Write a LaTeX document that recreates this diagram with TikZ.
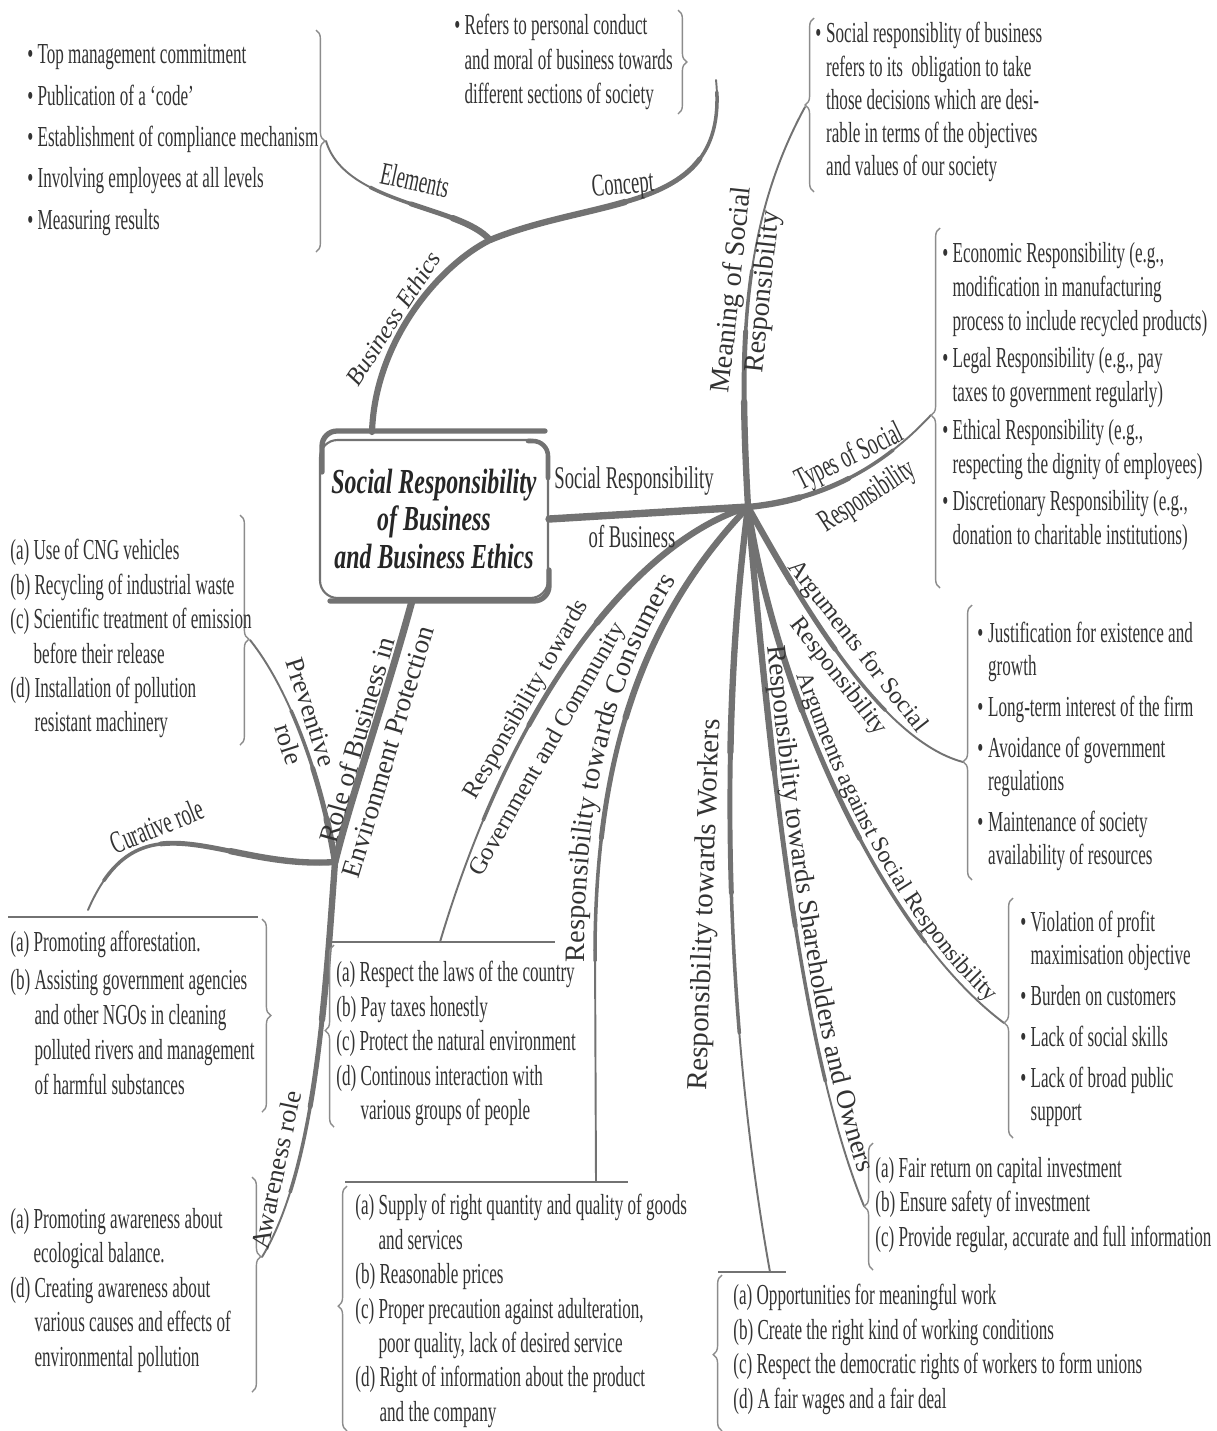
\documentclass[tikz,border=0pt]{standalone}
\usepackage{fontspec}
\setmainfont{Liberation Serif}
\newfontfamily\bodyf[FakeStretch=0.59]{Liberation Serif}
\newfontfamily\titlef[FakeStretch=0.68]{Liberation Serif}
\usetikzlibrary{decorations.pathreplacing,decorations.text}
\definecolor{ln}{HTML}{727272}
\definecolor{tx}{HTML}{333333}
\definecolor{br}{HTML}{8C8C8C}
\tikzset{
  lst/.style={anchor=north west, inner sep=0pt, align=left, text=tx, font=\bodyf\fontsize{16.5}{19.6}\selectfont},
  lbl/.style={inner sep=0pt, text=tx, font=\fontsize{#1}{#1}\selectfont},
  lbl/.default=16,
  clbl/.style={inner sep=0pt, text=tx, font=\bodyf\fontsize{18}{20}\selectfont},
  brc/.style={draw=br, line width=0.8pt, decorate, decoration={brace, amplitude=5pt, aspect=#1}},
  brc/.default=0.5,
  tp/.style n args={3}{draw=ln, line cap=round, line width=1.1pt,
     postaction={draw=ln, line cap=round, line width=2pt, dash pattern=on #1pt off 3000pt},
     postaction={draw=ln, line cap=round, line width=2.8pt, dash pattern=on #2pt off 3000pt},
     postaction={draw=ln, line cap=round, line width=3.6pt, dash pattern=on #3pt off 3000pt}},
  topline/.style={draw=ln, line width=1.5pt},
  ctrbox/.style={draw=ln, line width=1.2pt, rounded corners=0.35cm, minimum width=4.56cm, minimum height=3.16cm, align=center, inner sep=0pt, text=black!85, font=\titlef\bfseries\itshape\fontsize{20}{21.5}\selectfont},
}
\begin{document}
\begin{tikzpicture}[x=0.02cm,y=-0.02cm]
\fill[white] (0,0) rectangle (1217,1431);
\path[use as bounding box] (0,0) rectangle (1217,1431);

% ---------- central box ----------
\node[ctrbox] (ctr) at (434,519) {Social Responsibility\\of Business\\and Business Ethics};
\draw[draw=ln, line width=3pt, line cap=round, rounded corners=0.3cm] (322,472) -- (322,431) -- (545,431);
\draw[draw=ln, line width=2.6pt, line cap=round, rounded corners=0.3cm] (528,441) -- (548,441) -- (548,478);
\draw[draw=ln, line width=3pt, line cap=round, rounded corners=0.3cm] (330,601) -- (549,601) -- (549,570);

% ---------- coordinates ----------
\coordinate (hub) at (748,507);
\coordinate (bE) at (372,432);
\coordinate (jB) at (490,240);
\coordinate (eL) at (326,141);
\coordinate (cP) at (716,80);
\coordinate (rB) at (412,601);
\coordinate (jR) at (335,862);
\coordinate (pV) at (250,640);
\coordinate (cU) at (88,910);
\coordinate (aW) at (262,1257);
\coordinate (mS) at (805,107);
\coordinate (tT) at (931,415);
\coordinate (aF) at (963,762);
\coordinate (aA) at (1004,1023);
\coordinate (sH) at (864,1206);
\coordinate (wK) at (770,1272);
\coordinate (cN) at (596,1182);
\coordinate (gV) at (440,942);
\coordinate (lc0) at (595,962);

% ---------- branches ----------
\draw[draw=ln, line width=4.2pt, line cap=round] (ctr.east) -- (hub);
\draw[tp={135}{100}{60}] (hub) .. controls (740,360) and (738,230) .. (mS);
\draw[tp={90}{60}{30}] (hub) .. controls (820,500) and (880,470) .. (tT);
\draw[tp={140}{95}{50}] (hub) .. controls (800,600) and (880,740) .. (aF);
\draw[tp={270}{200}{120}] (hub) .. controls (775,690) and (880,930) .. (aA);
\draw[tp={330}{240}{150}] (hub) .. controls (770,760) and (800,1050) .. (sH);
\draw[tp={300}{220}{140}] (hub) .. controls (715,760) and (730,1050) .. (wK);
\draw[tp={280}{210}{140}] (hub) .. controls (640,620) and (596,760) .. (595,950) -- (cN);
\draw[tp={240}{180}{110}] (hub) .. controls (640,540) and (515,690) .. (gV);

\draw[draw=ln, line width=3.5pt, line cap=round] (bE) .. controls (375,340) and (440,265) .. (jB);
\draw[tp={75}{50}{25}] (jB) .. controls (460,205) and (345,205) .. (eL);
\draw[tp={170}{130}{80}] (jB) .. controls (600,195) and (730,215) .. (cP);

\draw[draw=ln, line width=4pt, line cap=round] (rB) .. controls (385,700) and (350,800) .. (jR);
\draw[tp={90}{55}{25}] (jR) .. controls (322,780) and (290,690) .. (pV);
\draw[tp={140}{100}{60}] (jR) .. controls (220,870) and (140,790) .. (cU);
\draw[tp={190}{140}{90}] (jR) .. controls (325,1000) and (315,1170) .. (aW);

% ---------- box top lines ----------
\draw[topline] (330,942) -- (555,942);
\draw[topline] (345,1182) -- (628,1182);
\draw[topline] (718,1272) -- (786,1272);
\draw[topline] (8,917) -- (258,917);

% ---------- braces ----------
\draw[brc=0.5] (316,30) -- (316,252);
\draw[brc=0.5] (678,10) -- (678,114);
\draw[brc=0.5] (814,192) -- (814,18);
\draw[brc=0.48] (940,588) -- (940,228);
\draw[brc=0.43] (972,880) -- (972,605);
\draw[brc=0.48] (1013,1138) -- (1013,898);
\draw[brc=0.5] (873,1270) -- (873,1143);
\draw[brc=0.49] (722,1431) -- (722,1275);
\draw[brc=0.51] (347,1431) -- (347,1186);
\draw[brc=0.53] (334,1127) -- (334,945);
\draw[brc=0.54] (240,515) -- (240,745);
\draw[brc=0.5] (262,919) -- (262,1112);
\draw[brc=0.37] (252,1177) -- (252,1392);

% ---------- branch labels ----------
\node[clbl] (lSR1) at (634,481) {Social Responsibility};
\node[clbl] (lSR2) at (632,537) {of Business};
\node[lbl=16, rotate=84] (lM1) at (733,290) {Meaning of Social};
\node[lbl=16, rotate=84] (lM2) at (764,292) {Responsibility};
\node[clbl, rotate=26] (lT1) at (850,458) {Types of Social};
\node[clbl, rotate=33] (lT2) at (868,497) {Responsibility};
\node[lbl=14, rotate=-52] (lF1) at (857,647) {Arguments for Social};
\node[lbl=14, rotate=-52] (lF2) at (838,677) {Responsibility};
\path[decorate, decoration={text along path, text={|\fontsize{13.5}{13.5}\selectfont|Arguments against Social Responsibility}, raise=4pt, text align={left indent=100pt}, text color=tx}] (hub) .. controls (775,690) and (880,930) .. (aA);
\path[decorate, decoration={text along path, text={|\fontsize{15.5}{15.5}\selectfont|Responsibility towards Shareholders and Owners}, raise=4pt, text align={left indent=80pt}, text color=tx}] (hub) .. controls (770,760) and (800,1050) .. (sH);
\node[lbl=16.5, rotate=88] (lW) at (706,905) {Responsibility towards Workers};
\path[decorate, decoration={text along path, text={|\fontsize{16}{16}\selectfont|Responsibility towards Consumers}, raise=6pt, text align={left indent=0pt}, text color=tx}] (lc0) -- (595,950) .. controls (596,760) and (640,620) .. (hub);
\node[lbl=14, rotate=60] (lG1) at (527,700) {Responsibility towards};
\node[lbl=14, rotate=60] (lG2) at (548,750) {Government and Community};
\node[lbl=15.5, rotate=74] (lR1) at (357,740) {Role of Business in};
\node[lbl=15.5, rotate=73] (lR2) at (388,752) {Environment Protection};
\node[lbl=15, rotate=-72] (lP1) at (311,712) {Preventive};
\node[lbl=15, rotate=-72] (lP2) at (289,744) {role};
\node[clbl, rotate=22] (lC) at (157,826) {Curative role};
\node[lbl=15, rotate=78] (lA) at (276,1170) {Awareness role};
\node[inner sep=0pt, text=tx, font=\itshape\fontsize{14}{14}\selectfont, rotate=57] (lB) at (393,318) {Business Ethics};
\node[clbl, rotate=-12] (lE) at (415,180) {Elements};
\node[clbl, rotate=5] (lCo) at (623,187) {Concept};

% ---------- lists ----------
\node[lst, font=\bodyf\fontsize{16.5}{23.6}\selectfont] (eLst) at (27,44) {• Top management commitment\\• Publication of a ‘code’\\• Establishment of compliance mechanism\\• Involving employees at all levels\\• Measuring results};
\node[lst] (cLst) at (454,14) {• Refers to personal conduct\\\phantom{• }and moral of business towards\\\phantom{• }different sections of society};
\node[lst, font=\bodyf\fontsize{16.5}{18.95}\selectfont] (mLst) at (815,22) {•\,Social responsiblity of business\\\phantom{•\,}refers to its\ \ obligation to take\\\phantom{•\,}those decisions which are desi-\\\phantom{•\,}rable in terms of the objectives\\\phantom{•\,}and values of our society};
\node[lst, font=\bodyf\fontsize{16.5}{19.35}\selectfont] (tLst) at (942,242) {• Economic Responsibility (e.g.,\\\phantom{• }modification in manufacturing\\\phantom{• }process to include recycled products)\\[2pt]• Legal Responsibility (e.g., pay\\\phantom{• }taxes to government regularly)\\[2pt]• Ethical Responsibility (e.g.,\\\phantom{• }respecting the dignity of employees)\\[2pt]• Discretionary Responsibility (e.g.,\\\phantom{• }donation to charitable institutions)};
\node[lst, font=\bodyf\fontsize{16.5}{18.8}\selectfont] (fLst) at (977,622) {•\,Justification for existence and\\\phantom{•\,}growth\\[4.5pt]•\,Long-term interest of the firm\\[4.5pt]•\,Avoidance of government\\\phantom{•\,}regulations\\[4.5pt]•\,Maintenance of society\\\phantom{•\,}availability of resources};
\node[lst, font=\bodyf\fontsize{16.5}{18.8}\selectfont] (gLst) at (1020,911) {• Violation of profit\\\phantom{• }maximisation objective\\[4.5pt]• Burden on customers\\[4.5pt]• Lack of social skills\\[4.5pt]• Lack of broad public\\\phantom{• }support};
\node[lst] (sLst) at (875,1157) {(a) Fair return on capital investment\\(b) Ensure safety of investment\\(c) Provide regular, accurate and full information};
\node[lst] (wLst) at (733,1284) {(a) Opportunities for meaningful work\\(b) Create the right kind of working conditions\\(c) Respect the democratic rights of workers to form unions\\(d) A fair wages and a fair deal};
\node[lst] (nLst) at (355,1194) {(a) Supply of right quantity and quality of goods\\\phantom{(a) }and services\\(b) Reasonable prices\\(c) Proper precaution against adulteration,\\\phantom{(c) }poor quality, lack of desired service\\(d) Right of information about the product\\\phantom{(d) }and the company};
\node[lst] (vLst) at (336,961) {(a) Respect the laws of the country\\(b) Pay taxes honestly\\(c) Protect the natural environment\\(d) Continous interaction with\\\phantom{(d) }various groups of people};
\node[lst] (pLst) at (10,539) {(a) Use of CNG vehicles\\(b) Recycling of industrial waste\\(c) Scientific treatment of emission\\\phantom{(c) }before their release\\(d) Installation of pollution\\\phantom{(d) }resistant machinery};
\node[lst, font=\bodyf\fontsize{16.5}{19.9}\selectfont] (uLst) at (10,931) {(a) Promoting afforestation.\\[1.5pt](b) Assisting government agencies\\\phantom{(b) }and other NGOs in cleaning\\\phantom{(b) }polluted rivers and management\\\phantom{(b) }of harmful substances};
\node[lst] (aLst) at (10,1208) {(a) Promoting awareness about\\\phantom{(a) }ecological balance.\\(d) Creating awareness about\\\phantom{(d) }various causes and effects of\\\phantom{(d) }environmental pollution};
\end{tikzpicture}
\end{document}
